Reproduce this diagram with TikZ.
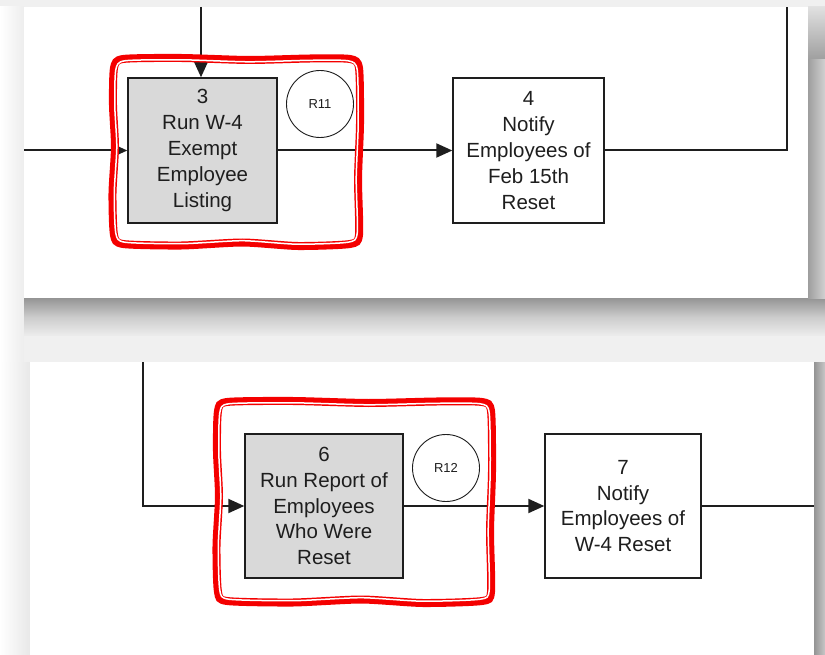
\documentclass[tikz,border=0pt]{standalone}
\usepackage{fontspec}
\setmainfont{Liberation Sans}
\usetikzlibrary{arrows.meta}

\definecolor{boxgray}{HTML}{D9D9D9}
\definecolor{inkgray}{HTML}{1E1E1E}
\definecolor{markred}{HTML}{F40000}

% hand drawn frame: centre x, centre y, half width, half height
\newcommand\wavyframe[4]{%
  plot[smooth cycle, tension=0.4] coordinates {
    ({#1-#3+9},{#2-#4}) ({#1-0.45*#3},{#2-#4-1}) ({#1+0.1*#3},{#2-#4+1}) ({#1+0.6*#3},{#2-#4-0.5}) ({#1+#3-9},{#2-#4})
    ({#1+#3},{#2-#4+9}) ({#1+#3+1},{#2-0.3*#4}) ({#1+#3-1},{#2+0.3*#4}) ({#1+#3},{#2+#4-9})
    ({#1+#3-9},{#2+#4}) ({#1+0.5*#3},{#2+#4+2}) ({#1+0.05*#3},{#2+#4-1.5}) ({#1-0.45*#3},{#2+#4+1.5}) ({#1-#3+9},{#2+#4})
    ({#1-#3},{#2+#4-9}) ({#1-#3-1.5},{#2+0.45*#4}) ({#1-#3+1},{#2-0.05*#4}) ({#1-#3-1},{#2-0.5*#4}) ({#1-#3},{#2-#4+9})
  }}

\begin{document}
\begin{tikzpicture}[x=1pt,y=-1pt,
  procbox/.style={draw=inkgray, line width=1.4pt, fill=white, text=inkgray, align=center,
    font=\fontsize{20.5}{25.8}\selectfont, inner sep=0pt, minimum height=145pt},
  graybox/.style={procbox, fill=boxgray},
  refcircle/.style={circle, draw=inkgray, line width=0.9pt, fill=white, minimum size=67pt,
    inner sep=0pt, text=inkgray, font=\fontsize{13}{15}\selectfont},
  flow/.style={draw=inkgray, line width=2pt},
  flowarrow/.style={flow, -{Triangle[length=16pt,width=14pt]}},
  redmark/.style={draw=markred, line width=8pt},
  redgap/.style={draw=white, line width=1.5pt}]
\useasboundingbox (0,0) rectangle (825,655);

% page and shadows
\fill[black!6] (0,0) rectangle (825,7);
\shade[left color=white, right color=black!7] (0,7) rectangle (24,362);
\shade[left color=white, right color=black!9] (0,362) rectangle (30,655);
\shade[top color=black!42, bottom color=black!7, middle color=black!20] (24,298) rectangle (825,336);
\fill[black!6] (24,336) rectangle (825,362);
\shade[top color=black!12, bottom color=black!38] (808,7) rectangle (825,60);
\shade[left color=black!38, right color=black!18] (808,60) rectangle (825,298);
\shade[left color=black!42, right color=black!22] (814,362) rectangle (825,655);
\fill[white] (24,7) rectangle (808,298);
\fill[white] (30,362) rectangle (814,655);

% upper part
\node[graybox, minimum width=149pt] (box3) at (202.5,150.5) {3\\Run W-4\\Exempt\\Employee\\Listing};
\node[procbox, minimum width=151pt] (box4) at (528.5,150.5) {4\\Notify\\Employees of\\Feb 15th\\Reset};
\node[refcircle] (r11) at (320,104) {R11};
\coordinate (in3) at (201,7);
\coordinate (left3) at (24,150.5);
\coordinate (out4) at (787,7);

\draw[flowarrow] (in3) -- (in3 |- box3.north);
\draw[flowarrow] (left3) -- (box3.west);
\draw[flowarrow] (box3.east) -- (box4.west);
\draw[flow] (box4.east) -| (out4);

% lower part
\node[graybox, minimum width=158pt, minimum height=144pt] (box6) at (324,506) {6\\Run Report of\\Employees\\Who Were\\Reset};
\node[procbox, minimum width=156pt, minimum height=144pt] (box7) at (623,506) {7\\Notify\\Employees of\\W-4 Reset};
\node[refcircle] (r12) at (446,468) {R12};
\coordinate (in6) at (143,362);
\coordinate (out7) at (814,506);

\draw[flowarrow] (in6) |- (box6.west);
\draw[flowarrow] (box6.east) -- (box7.west);
\draw[flow] (box7.east) -- (out7);

% red marks
\draw[redmark] \wavyframe{236.5}{151.5}{122.5}{92.5};
\draw[redgap] \wavyframe{236.5}{151.5}{120.7}{90.7};
\draw[redmark] \wavyframe{354.5}{501.5}{136.5}{99.5};
\draw[redgap] \wavyframe{354.5}{501.5}{134.7}{97.7};
\end{tikzpicture}
\end{document}
